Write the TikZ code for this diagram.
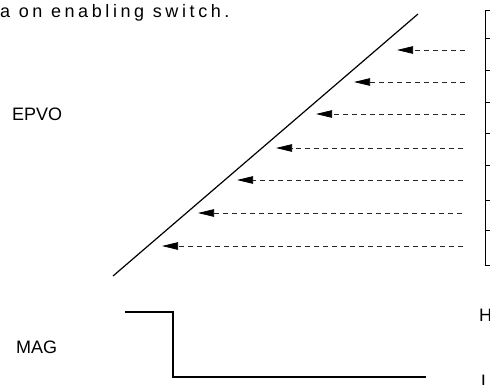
\documentclass[tikz,border=0pt]{standalone}
\usepackage{fontspec}
\setmainfont{Liberation Sans}
\newfontfamily\widefont[LetterSpace=20]{Liberation Sans}
\usetikzlibrary{arrows.meta}

\begin{document}
\begin{tikzpicture}[x=1pt, y=-1pt]
\tikzset{
    mylabel/.style={inner sep=0pt, anchor=base west, font=\fontsize{18}{20}\selectfont},
    myarrow/.style={-{Triangle[length=16pt, width=7.5pt, black]}, dash pattern=on 5pt off 4pt, line width=0.75pt, black!85},
    myline/.style={line width=1.2pt, black}
}
\useasboundingbox (0,0) rectangle (490,384);

% labels
\node[mylabel, font=\fontsize{18}{20}\widefont] (caption) at (0,17) {a on enabling switch.};
\node[mylabel] (epvo) at (12,120) {EPVO};
\node[mylabel] (mag) at (16,353) {MAG};
\node[mylabel] (high) at (479,321) {H};
\node[mylabel] (low) at (481,387) {L};

% ramp
\coordinate (ramp_lo) at (113,276);
\coordinate (ramp_hi) at (418,14);
\draw[myline] (ramp_lo) -- (ramp_hi);

% ruler on the right
\coordinate (rule_top) at (485,10);
\coordinate (rule_bot) at (485,265);
\draw[line width=0.9pt] (490,10) -- (rule_top) -- (rule_bot) -- (490,265);
\draw[line width=0.9pt] (485,38) -- (490,38);
\draw[line width=0.9pt] (485,70) -- (490,70);
\draw[line width=0.9pt] (485,102) -- (490,102);
\draw[line width=0.9pt] (485,133) -- (490,133);
\draw[line width=0.9pt] (485,165) -- (490,165);
\draw[line width=0.9pt] (485,200) -- (490,200);
\draw[line width=0.9pt] (485,230) -- (490,230);

% steps
\coordinate (src1) at (465,50);  \coordinate (hit1) at (397,50);
\coordinate (src2) at (465,82);  \coordinate (hit2) at (354,82);
\coordinate (src3) at (465,114); \coordinate (hit3) at (316,114);
\coordinate (src4) at (463,148); \coordinate (hit4) at (276,148);
\coordinate (src5) at (463,180); \coordinate (hit5) at (237,180);
\coordinate (src6) at (462,213); \coordinate (hit6) at (198,213);
\coordinate (src7) at (463,246); \coordinate (hit7) at (162,246);
\draw[myarrow] (src1) -- (hit1);
\draw[myarrow] (src2) -- (hit2);
\draw[myarrow] (src3) -- (hit3);
\draw[myarrow] (src4) -- (hit4);
\draw[myarrow] (src5) -- (hit5);
\draw[myarrow] (src6) -- (hit6);
\draw[myarrow] (src7) -- (hit7);

% MAG signal
\coordinate (mag_start) at (125,312);
\coordinate (mag_fall) at (173,312);
\coordinate (mag_low) at (173,377);
\coordinate (mag_end) at (426,377);
\draw[myline] (mag_start) -- (mag_fall) -- (mag_low) -- (mag_end);
\end{tikzpicture}
\end{document}
